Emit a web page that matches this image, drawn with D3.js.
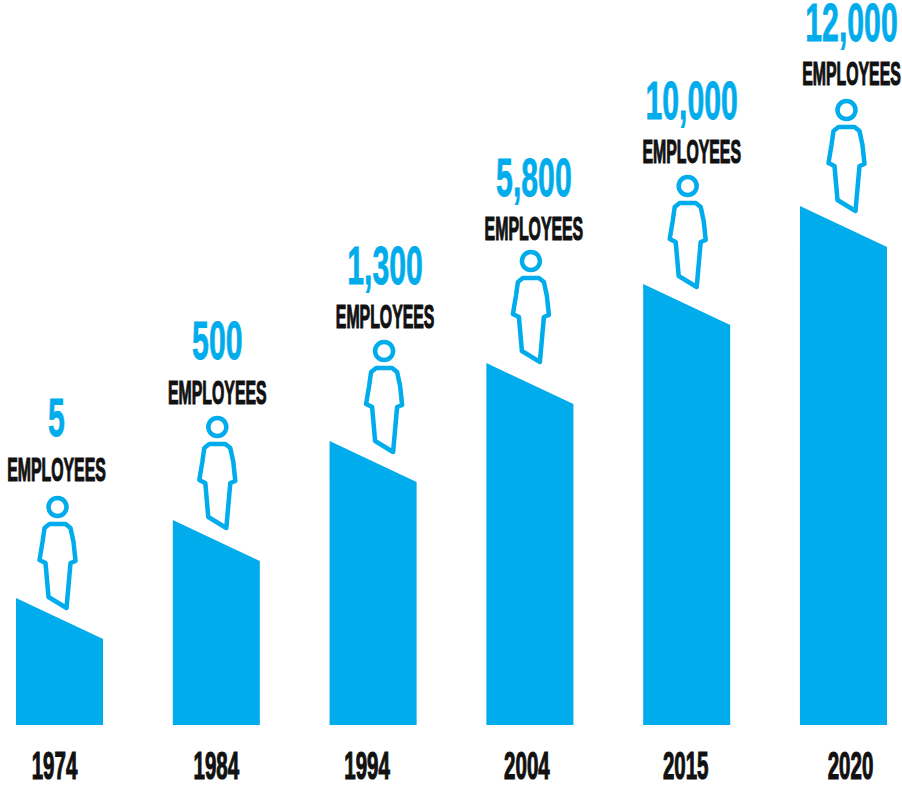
<!DOCTYPE html>
<html>
<head>
<meta charset="utf-8">
<script src="https://cdn.jsdelivr.net/npm/d3@7"></script>
<style>
html,body{margin:0;padding:0;background:#fff;overflow:hidden}
text{font-family:"Liberation Sans",sans-serif;font-weight:700;text-anchor:middle}
</style>
</head>
<body>
<div id="chart"></div>
<script>
const years=["1974","1984","1994","2004","2015","2020"];
const employees=[5,500,1300,5800,10000,12000];
// bars are stepped, not proportional to headcount: heights
const barLevels=[127,205,284,362,441,519];

const width=902,height=785,baseline=725;
const blue="#00aceb";
const ink="#111";

// hand placement of the figures and labels, they do not sit evenly on the bars
const figureDx=[-2,1,11,1,1,3];
const figureLift=[91,93,90,102,98,96];
const labelDx=[-1,0,1,3,4,5];
const captionLift=[26,23,23,21,23,25];
const countLift=[71,68,67,65,67,69];
const yearDx=[-5,0,-6,-3,-1,7];

const outline=[[-8,17],[8,17],[13,21],[16,35],[18,54],[13,56],[9,101],[-9,90],[-12,56],[-18,53],[-15,35],[-13,21]];

const svg=d3.select("#chart")
    .append("svg")
    .attr("width",width)
    .attr("height",height);

const x=d3.scaleBand()
    .domain(years)
    .range([16,887])
    .paddingInner(0.445)
    .paddingOuter(0);

const y=d3.scaleLinear()
    .domain([0,725])
    .range([baseline,0]);

const barLine=d3.line();

const slotData=years.map((year,i)=>({
    year,
    count:employees[i],
    level:barLevels[i],
    i
}));

svg.selectAll(".bar")
    .data(slotData)
    .enter()
    .append("path")
    .attr("class","bar")
    .attr("fill",blue)
    .attr("d",d=>{
        const x0=x(d.year),x1=x0+x.bandwidth();
        return barLine([[x0,y(0)],[x0,y(d.level)],[x1,y(d.level)+41],[x1,y(0)]])+"Z";
    });

const figures=svg.selectAll(".figure")
    .data(slotData)
    .enter()
    .append("g")
    .attr("class","figure")
    .attr("transform",d=>`translate(${x(d.year)+x.bandwidth()/2+figureDx[d.i]},${y(d.level)-figureLift[d.i]})`);

figures.append("circle")
    .attr("r",9)
    .attr("fill","none")
    .attr("stroke",blue)
    .attr("stroke-width",4.5);

figures.append("path")
    .attr("d",d3.line().curve(d3.curveLinearClosed)(outline))
    .attr("fill","none")
    .attr("stroke",blue)
    .attr("stroke-width",4.5)
    .attr("stroke-linejoin","round");

// no condensed face is installed, so the type is squeezed sideways and thickened a little
figures.append("text")
    .attr("transform",d=>`translate(${labelDx[d.i]},${-captionLift[d.i]}) scale(0.48,1)`)
    .attr("font-size",33)
    .attr("fill",ink)
    .attr("stroke",ink)
    .attr("stroke-width",1.2)
    .text("EMPLOYEES");

figures.append("text")
    .attr("transform",d=>`translate(${labelDx[d.i]},${-countLift[d.i]}) scale(0.57,1)`)
    .attr("font-size",53)
    .attr("fill",blue)
    .attr("stroke",blue)
    .attr("stroke-width",0.8)
    .text(d=>d3.format(",")(d.count));

svg.selectAll(".year")
    .data(slotData)
    .enter()
    .append("text")
    .attr("class","year")
    .attr("transform",d=>`translate(${x(d.year)+x.bandwidth()/2+yearDx[d.i]},779) scale(0.54,1)`)
    .attr("font-size",38)
    .attr("fill",ink)
    .attr("stroke",ink)
    .attr("stroke-width",1.2)
    .text(d=>d.year);
</script>
</body>
</html>
